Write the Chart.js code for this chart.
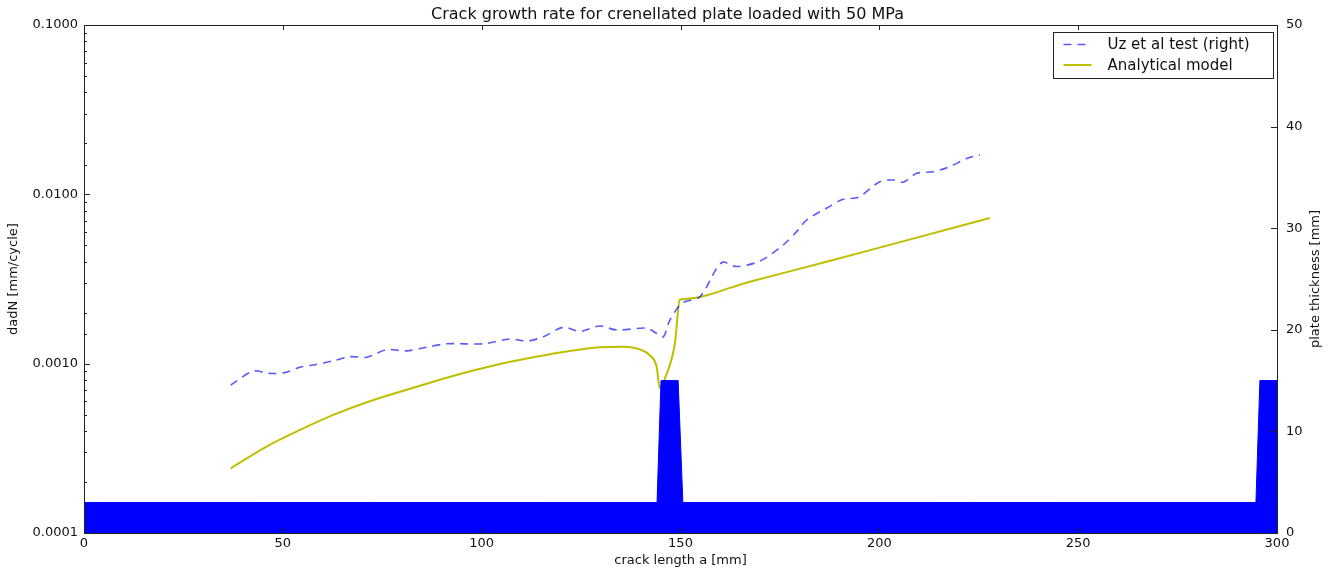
<!DOCTYPE html>
<html>
<head>
<meta charset="utf-8">
<script src="https://cdn.jsdelivr.net/npm/chart.js@4/dist/chart.umd.min.js"></script>
<style>
    html, body { margin: 0; padding: 0; background: #ffffff; }
</style>
</head>
<body>
<canvas id="chart" width="1335" height="571"></canvas>
<script>
const testX = [36.9, 42.6, 46.3, 50.5, 54.3, 57.7, 62.7, 66.9, 71.1, 76.1, 81.1, 86.2, 91.2, 100.4,
    107.1, 111.3, 115.5, 120.5, 124.7, 129.7, 133.9, 141.5, 144.0, 145.7, 147.3, 150.3, 154.9,
    159.1, 160.7, 164.1, 170.0, 175.8, 179.2, 181.7, 186.7, 190.9, 194.7, 200.1, 203.5, 206.0,
    209.4, 213.6, 217.7, 222.0, 225.3];
const testRate = [0.000748, 0.000905, 0.000877, 0.000885, 0.000952, 0.000982, 0.00104, 0.00110, 0.00109,
    0.00121, 0.00119, 0.00125, 0.00131, 0.00131, 0.00140, 0.00136, 0.00144, 0.00164, 0.00155,
    0.00167, 0.00158, 0.00162, 0.00151, 0.00144, 0.00180, 0.00227, 0.00249, 0.00366, 0.00398,
    0.00375, 0.00404, 0.00502, 0.00602, 0.00705, 0.00827, 0.00935, 0.00960, 0.01187, 0.01215,
    0.01180, 0.01330, 0.01360, 0.01456, 0.01630, 0.01710];

// analytical model
const modelX = [36.9, 45.9, 54.3, 62.7, 71.1, 79.5, 87.8, 96.2, 104.6, 113.0, 121.4, 129.7, 135.6,
    140.0, 142.3, 144.0, 144.8, 146.1, 148.6, 149.8, 151.0, 167.4, 188.4, 208.0, 227.8];
const modelRate = [0.000241, 0.000324, 0.000406, 0.000498, 0.000592, 0.000683, 0.000782, 0.000889,
    0.000995, 0.00109, 0.00118, 0.00125, 0.00126, 0.00121, 0.00112, 0.00096, 0.000715, 0.00082,
    0.00132, 0.00238, 0.00241, 0.00305, 0.00409, 0.00544, 0.00725];

// plate thickness profile (right axis)
const plateX = [0, 144.1, 145.1, 149.4, 150.6, 294.7, 295.7, 300];
const plateThickness = [3, 3, 15, 15, 3, 3, 15, 15];

const xTickStep = 50;
const rightTickStep = 10;

const FONT = 'DejaVu Sans';
Chart.defaults.font.family = FONT;
Chart.defaults.font.size = 13;
Chart.defaults.color = '#111111';

const toPoints = (xs, ys) => xs.map((x, i) => ({ x: x, y: ys[i] }));

const isMajor = v => Math.abs(Math.log10(v) - Math.round(Math.log10(v))) < 1e-6;

// 枠、内向きの目盛り、凡例、右軸タイトル
const decorations = {
    id: 'decorations',
    afterDatasetsDraw(chart) {
        const { ctx, chartArea: a, scales } = chart;
        const line = (x1, y1, x2, y2) => {
            ctx.beginPath();
            ctx.moveTo(x1, y1);
            ctx.lineTo(x2, y2);
            ctx.stroke();
        };
        ctx.save();
        ctx.strokeStyle = '#222222';
        ctx.lineWidth = 1;

        scales.x.ticks.forEach(t => {
            const p = Math.round(scales.x.getPixelForValue(t.value)) + 0.5;
            line(p, a.bottom, p, a.bottom - 5);
            line(p, a.top, p, a.top + 5);
        });
        scales.y.ticks.forEach(t => {
            const p = Math.round(scales.y.getPixelForValue(t.value)) + 0.5;
            const len = isMajor(t.value) ? 6 : 3;
            line(a.left, p, a.left + len, p);
        });
        scales.y1.ticks.forEach(t => {
            const p = Math.round(scales.y1.getPixelForValue(t.value)) + 0.5;
            line(a.right, p, a.right - 6, p);
        });
        ctx.strokeRect(Math.round(a.left) + 0.5, Math.round(a.top) + 0.5,
            Math.round(a.right - a.left), Math.round(a.bottom - a.top));

        // legend box
        const items = chart.data.datasets.filter(d => !d.fill);
        const boxW = 220, boxH = 46;
        const bx = Math.round(a.right - 4.5 - boxW) + 0.5;
        const by = Math.round(a.top + 7) + 0.5;
        ctx.fillStyle = '#ffffff';
        ctx.fillRect(bx, by, boxW, boxH);
        ctx.strokeRect(bx, by, boxW, boxH);
        ctx.font = '15px "' + FONT + '"';
        ctx.textBaseline = 'middle';
        items.forEach((d, i) => {
            const y = by + 12 + i * 20.5;
            ctx.save();
            ctx.strokeStyle = d.borderColor;
            ctx.lineWidth = d.borderWidth;
            ctx.setLineDash(d.borderDash || []);
            line(bx + 10, y, bx + 38, y);
            ctx.restore();
            ctx.fillStyle = '#111111';
            ctx.fillText(d.label, bx + 54, y + 1);
        });

        // right axis title, read bottom to top
        ctx.save();
        ctx.font = '13px "' + FONT + '"';
        ctx.translate(scales.y1.right - 19, (a.top + a.bottom) / 2);
        ctx.rotate(-Math.PI / 2);
        ctx.textAlign = 'center';
        ctx.textBaseline = 'middle';
        ctx.fillStyle = '#111111';
        ctx.fillText('plate thickness [mm]', 0, 0);
        ctx.restore();
        ctx.restore();
    }
};

new Chart(document.getElementById('chart'), {
    type: 'line',
    data: {
        datasets: [
            {
                label: 'plate thickness',
                data: toPoints(plateX, plateThickness),
                yAxisID: 'y1',
                borderColor: '#0000ff',
                backgroundColor: '#0000ff',
                borderWidth: 1,
                fill: 'origin',
                pointRadius: 0,
                tension: 0,
            },
            {
                label: 'Uz et al test (right)',
                data: toPoints(testX, testRate),
                yAxisID: 'y',
                borderColor: 'rgba(0, 0, 255, 0.65)',
                borderWidth: 1.6,
                borderDash: [8, 6],
                fill: false,
                pointRadius: 0,
                tension: 0.3,
            },
            {
                label: 'Analytical model',
                data: toPoints(modelX, modelRate),
                yAxisID: 'y',
                borderColor: '#bfbf00',
                borderWidth: 2,
                fill: false,
                pointRadius: 0,
                cubicInterpolationMode: 'monotone',
            },
        ],
    },
    options: {
        responsive: false,
        animation: false,
        devicePixelRatio: 1,
        layout: { padding: 0 },
        plugins: {
            legend: { display: false },
            tooltip: { enabled: false },
            title: {
                display: true,
                text: 'Crack growth rate for crenellated plate loaded with 50 MPa',
                color: '#111111',
                font: { size: 16, weight: 'normal' },
                padding: { top: 5.4, bottom: 0.4 },
            },
        },
        scales: {
            x: {
                type: 'linear',
                min: 0,
                max: 300,
                ticks: { stepSize: xTickStep, padding: 3, maxRotation: 0 },
                grid: { display: false, drawTicks: false },
                border: { display: false },
                title: { display: true, text: 'crack length a [mm]', padding: { top: 0, bottom: 3 } },
                afterFit: s => { s.height = 38; },
            },
            y: {
                type: 'logarithmic',
                position: 'left',
                min: 0.0001,
                max: 0.1,
                ticks: {
                    autoSkip: false,
                    padding: 6,
                    callback: v => isMajor(v) ? v.toFixed(4) : '',
                },
                grid: { display: false, drawTicks: false },
                border: { display: false },
                title: { display: true, text: 'dadN [mm/cycle]', padding: { top: 6, bottom: 0 } },
                afterFit: s => { s.width = 84; },
            },
            y1: {
                type: 'linear',
                position: 'right',
                min: 0,
                max: 50,
                ticks: { stepSize: rightTickStep, padding: 9 },
                grid: { display: false, drawTicks: false },
                border: { display: false },
                afterFit: s => { s.width = 58; },
            },
        },
    },
    plugins: [decorations],
});
</script>
</body>
</html>
